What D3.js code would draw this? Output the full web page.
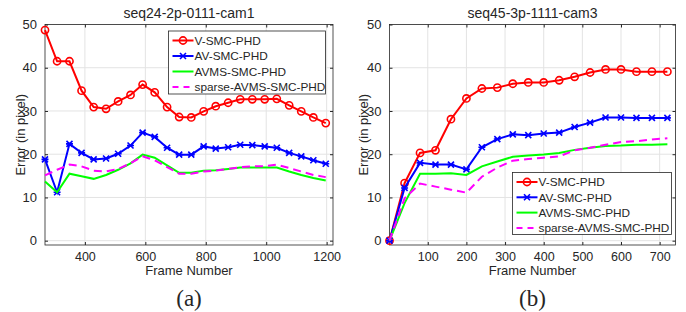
<!DOCTYPE html>
<meta charset="utf-8">
<style>
body { margin: 0; background: #fff; }
svg text { font-family: Arial, "Liberation Sans", sans-serif; fill: #262626; }
.grid line { stroke: #e3e3e3; stroke-width: 1px; }
.series { fill: none; stroke-width: 2px; }
</style>
<body>
<svg id="svg" width="686" height="312"></svg>
<script src="https://cdnjs.cloudflare.com/ajax/libs/d3/7.8.5/d3.min.js"></script>
<script>

// ---- data ----
var seriesNames = ["V-SMC-PHD", "AV-SMC-PHD", "AVMS-SMC-PHD", "sparse-AVMS-SMC-PHD"];

var framesA = [268, 308, 349, 389, 429, 470, 510, 551, 591, 631, 672, 712, 752, 793, 833, 874, 914, 954, 995, 1035, 1076, 1116, 1156, 1197];
var vA      = [48.7, 41.5, 41.5, 34.7, 30.9, 30.5, 32.2, 33.7, 36.1, 34.3, 30.9, 28.6, 28.5, 29.9, 31.1, 31.9, 32.7, 32.7, 32.7, 32.8, 31.3, 29.9, 28.5, 27.2];
var avA     = [18.8, 11.2, 22.4, 20.3, 18.8, 19.0, 20.1, 22.0, 25.0, 24.0, 21.5, 19.9, 19.9, 21.8, 21.3, 21.6, 22.2, 22.1, 21.8, 21.5, 20.3, 19.5, 18.6, 17.8];
var avmsA   = [13.7, 11.2, 15.5, 14.9, 14.3, 15.2, 16.4, 17.9, 19.9, 19.2, 17.4, 15.7, 15.7, 16.2, 16.3, 16.6, 16.9, 16.9, 16.9, 16.9, 16.0, 15.2, 14.5, 13.9];
var sparseA = [15.1, 16.4, 17.6, 17.2, 16.2, 16.0, 16.6, 17.9, 19.5, 18.6, 17.0, 15.5, 15.5, 16.0, 16.2, 16.6, 17.0, 17.2, 17.2, 17.6, 16.8, 16.0, 15.2, 14.7];

var framesB = [1, 40, 80, 120, 160, 200, 240, 280, 320, 360, 400, 440, 480, 520, 560, 600, 640, 680, 720];
var vB      = [0, 13.3, 20.3, 20.9, 28.1, 32.9, 35.2, 35.4, 36.3, 36.6, 36.6, 37.1, 37.9, 38.9, 39.6, 39.6, 39.1, 39.1, 39.1];
var avB     = [0, 12.2, 18.0, 17.6, 17.6, 16.5, 21.6, 23.5, 24.6, 24.4, 24.8, 25.0, 26.3, 27.3, 28.5, 28.5, 28.4, 28.4, 28.4];
var avmsB   = [0, 8.7, 15.5, 15.5, 15.6, 15.2, 17.2, 18.3, 19.4, 19.7, 19.95, 20.3, 21.0, 21.5, 21.9, 22.0, 22.2, 22.2, 22.3];
var sparseB = [0, 9.8, 13.2, 12.5, 11.8, 11.1, 14.8, 16.9, 18.5, 18.9, 19.2, 19.5, 20.9, 21.5, 22.2, 22.8, 23.0, 23.4, 23.7];

var xTicksA = [400, 600, 800, 1000, 1200];
var xTicksB = [100, 200, 300, 400, 500, 600, 700];
var yTicks = [0, 10, 20, 30, 40, 50];

var colors = ["#ff0000", "#0000ff", "#00ff00", "#ff00ff"];

var svg = d3.select("#svg");

function drawPanel(opt) {
  var x = d3.scaleLinear().domain(opt.xDomain).range([opt.left, opt.right]);
  var y = d3.scaleLinear().domain([-1, 50]).range([opt.bottom, opt.top]);
  var g = svg.append("g");

  // grid
  var grid = g.append("g").attr("class", "grid");
  grid.selectAll(".gx").data(opt.xTicks).enter().append("line")
      .attr("x1", function(d) { return x(d); }).attr("x2", function(d) { return x(d); })
      .attr("y1", opt.top).attr("y2", opt.bottom);
  grid.selectAll(".gy").data(yTicks).enter().append("line")
      .attr("x1", opt.left).attr("x2", opt.right)
      .attr("y1", function(d) { return y(d); }).attr("y2", function(d) { return y(d); });

  // axes (MATLAB style box, ticks inside)
  var h = opt.bottom - opt.top, w = opt.right - opt.left;
  g.append("g").attr("transform", "translate(0," + opt.bottom + ")")
      .call(d3.axisBottom(x).tickValues(opt.xTicks).tickSizeInner(-3).tickSizeOuter(0).tickPadding(7).tickFormat(d3.format("d")))
      .call(function(a) { a.select(".domain").remove(); a.selectAll("line").attr("stroke", "#262626"); a.selectAll("text").attr("font-size", 12.5).attr("fill", "#262626"); });
  g.append("g").attr("transform", "translate(0," + opt.top + ")")
      .call(d3.axisTop(x).tickValues(opt.xTicks).tickSizeInner(-3).tickSizeOuter(0).tickFormat(""))
      .call(function(a) { a.select(".domain").remove(); a.selectAll("line").attr("stroke", "#262626"); });
  g.append("g").attr("transform", "translate(" + opt.left + ",0)")
      .call(d3.axisLeft(y).tickValues(yTicks).tickSizeInner(-3).tickSizeOuter(0).tickPadding(8))
      .call(function(a) { a.select(".domain").remove(); a.selectAll("line").attr("stroke", "#262626"); a.selectAll("text").attr("font-size", 13).attr("fill", "#262626"); });
  g.append("g").attr("transform", "translate(" + opt.right + ",0)")
      .call(d3.axisRight(y).tickValues(yTicks).tickSizeInner(-3).tickSizeOuter(0).tickFormat(""))
      .call(function(a) { a.select(".domain").remove(); a.selectAll("line").attr("stroke", "#262626"); });
  g.append("rect").attr("x", opt.left).attr("y", opt.top).attr("width", w).attr("height", h)
      .attr("fill", "none").attr("stroke", "#262626").attr("stroke-width", 0.8);

  // lines
  var line = d3.line().x(function(d) { return x(d[0]); }).y(function(d) { return y(d[1]); });
  opt.series.forEach(function(vals, i) {
    var pts = opt.frames.map(function(f, j) { return [f, vals[j]]; });
    g.append("path").attr("class", "series").attr("d", line(pts))
        .attr("stroke", colors[i])
        .attr("stroke-dasharray", i === 3 ? "8,5" : null);
    if (i === 0) {
      g.selectAll(".mo" + opt.id).data(pts).enter().append("circle")
          .attr("cx", function(d) { return x(d[0]); }).attr("cy", function(d) { return y(d[1]); })
          .attr("r", 3.6).attr("fill", "none").attr("stroke", colors[0]).attr("stroke-width", 1.6);
    }
    if (i === 1) {
      g.selectAll(".ms" + opt.id).data(pts).enter().append("path")
          .attr("transform", function(d) { return "translate(" + x(d[0]) + "," + y(d[1]) + ")"; })
          .attr("d", "M-3,-3L3,3M-3,3L3,-3M-3.5,0L3.5,0")
          .attr("fill", "none").attr("stroke", colors[1]).attr("stroke-width", 1.6);
    }
  });

  // title & labels
  var cx = (opt.left + opt.right) / 2;
  g.append("text").attr("x", cx).attr("y", 18).attr("text-anchor", "middle").attr("font-size", 14)
      .attr("fill", "#000").text(opt.title);
  g.append("text").attr("x", cx).attr("y", 275).attr("text-anchor", "middle").attr("font-size", 13)
      .text("Frame Number");
  g.append("text").attr("transform", "translate(" + (opt.left - opt.ylabOff) + "," + ((opt.top + opt.bottom) / 2) + ") rotate(-90)")
      .attr("text-anchor", "middle").attr("font-size", 13).text("Error (in pixel)");
  g.append("text").attr("x", cx).attr("y", 306).attr("text-anchor", "middle")
      .style("font-family", "'Liberation Serif', 'Times New Roman', serif").attr("font-size", 23)
      .attr("fill", "#000").text(opt.tag);

  // legend
  var lg = opt.legend;
  g.append("rect").attr("x", lg.x).attr("y", lg.y).attr("width", lg.w).attr("height", lg.h)
      .attr("fill", "#fff").attr("stroke", "#262626").attr("stroke-width", 0.8);
  seriesNames.forEach(function(name, i) {
    var ry = lg.y + 9.5 + i * lg.step;
    var x0 = lg.x + 4, x1 = lg.x + 25;
    g.append("line").attr("x1", x0).attr("x2", x1).attr("y1", ry).attr("y2", ry)
        .attr("stroke", colors[i]).attr("stroke-width", 2)
        .attr("stroke-dasharray", i === 3 ? "6,5" : null);
    if (i === 0) g.append("circle").attr("cx", (x0 + x1) / 2).attr("cy", ry).attr("r", 3.6)
        .attr("fill", "none").attr("stroke", colors[0]).attr("stroke-width", 1.6);
    if (i === 1) g.append("path").attr("transform", "translate(" + ((x0 + x1) / 2) + "," + ry + ")")
        .attr("d", "M-3,-3L3,3M-3,3L3,-3M-3.5,0L3.5,0").attr("stroke", colors[1]).attr("stroke-width", 1.6);
    g.append("text").attr("x", x1 + 1).attr("y", ry + 4.3).attr("font-size", 11.8).attr("fill", "#000").text(name);
  });
}

drawPanel({
  id: "a", left: 45, right: 333, top: 24.5, bottom: 245, ylabOff: 20,
  xDomain: [268, 1221], xTicks: xTicksA, frames: framesA,
  series: [vA, avA, avmsA, sparseA],
  title: "seq24-2p-0111-cam1", tag: "(a)",
  legend: {x: 168.5, y: 31, w: 157, h: 63, step: 15.5}
});

drawPanel({
  id: "b", left: 389.5, right: 675.5, top: 24.5, bottom: 245, ylabOff: 21.5,
  xDomain: [1, 741], xTicks: xTicksB, frames: framesB,
  series: [vB, avB, avmsB, sparseB],
  title: "seq45-3p-1111-cam3", tag: "(b)",
  legend: {x: 512.5, y: 172.5, w: 159, h: 62, step: 15.3}
});

</script>
</body>
